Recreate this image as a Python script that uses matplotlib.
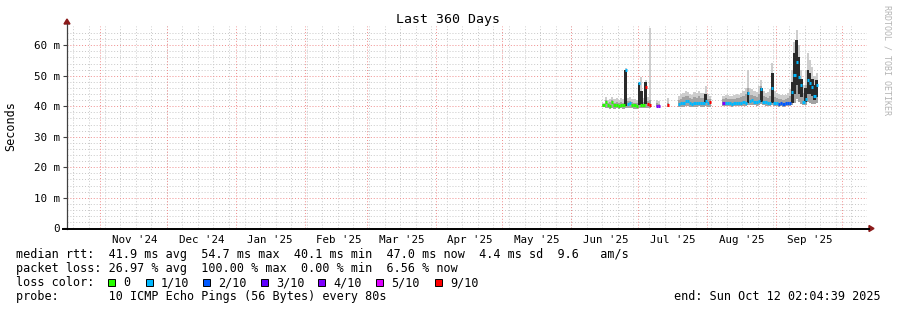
import matplotlib
matplotlib.use("Agg")

import matplotlib.dates as mdates
import matplotlib.pyplot as plt
import numpy as np
import pandas as pd
from matplotlib.figure import Figure
from matplotlib.lines import Line2D
from matplotlib.patches import Polygon, Rectangle

W: int = 897
H: int = 310

START: pd.Timestamp = pd.Timestamp("2024-10-17 02:04:39")
END: pd.Timestamp = pd.Timestamp("2025-10-12 02:04:39")

LOSS_COLORS: dict = {
    0: "#26ff00",
    1: "#00b8ff",
    2: "#0059ff",
    3: "#5e00ff",
    4: "#7e00ff",
    5: "#dd00ff",
    9: "#ff0000",
}
LOSS_LABELS: list = ["0", "1/10", "2/10", "3/10", "4/10", "5/10", "9/10"]
LOSS_KEYS: list = [0, 1, 2, 3, 4, 5, 9]

# June/July block (daily, from 2025-06-15)
seg1Start: str = "2025-06-15"
seg1Median: list = [40.3, 41.5, 40.4, 40.2, 41.4, 40.3, 40.4, 40.2, 40.5, 40.3, 52.0,
                    40.8, 41.0, 40.4, 40.3, 40.2, 47.6, 40.4, 40.3, 46.4, 40.6, 40.5]
seg1Loss: list = [0, 0, 0, 0, 0, 0, 0, 0, 0, 0, 1, 1, 1, 0, 0, 0, 1, 0, 0, 9, 9, 9]
seg1Lo: list = [39.6, 39.4, 39.3, 39.2, 39.3, 39.2, 39.3, 39.2, 39.3, 39.2, 39.5,
                39.3, 39.4, 39.3, 39.2, 39.2, 39.4, 39.3, 39.3, 39.4, 39.3, 39.3]
seg1Hi: list = [41.2, 43.0, 42.2, 42.5, 43.0, 42.3, 42.6, 42.0, 42.8, 42.4, 52.4,
                42.8, 43.0, 42.5, 42.4, 42.0, 48.0, 49.6, 42.6, 48.5, 43.0, 65.7]
seg1Mid: list = [40.8, 42.0, 41.2, 41.3, 42.0, 41.2, 41.4, 41.0, 41.5, 41.2, 41.8,
                 41.6, 41.8, 41.3, 41.2, 41.0, 42.0, 42.5, 41.3, 42.0, 41.8, 42.0]

# isolated samples in July
gapDates: list = ["2025-07-09", "2025-07-10", "2025-07-14"]
gapMedian: list = [40.2, 40.1, 40.3]
gapLoss: list = [4, 4, 9]
gapLo: list = [39.6, 39.6, 39.7]
gapHi: list = [42.0, 41.8, 42.6]
gapMid: list = [41.0, 40.9, 41.2]

# late July block (daily, from 2025-07-19)
seg2Start: str = "2025-07-19"
seg2Median: list = [40.9, 41.0, 41.0, 41.8, 41.6, 41.0, 40.9, 41.1, 41.0, 41.2, 41.0,
                    41.1, 41.6, 41.0, 41.3]
seg2Loss: list = [1, 1, 1, 1, 1, 1, 1, 1, 1, 1, 1, 1, 1, 1, 9]
seg2Lo: list = [39.8, 39.8, 39.9, 40.0, 40.0, 39.9, 39.8, 39.9, 39.9, 40.0, 39.9,
                39.9, 40.0, 39.9, 39.9]
seg2Hi: list = [43.5, 44.0, 44.5, 45.0, 44.8, 44.0, 43.8, 44.6, 44.4, 45.0, 44.5,
                44.2, 46.8, 44.0, 43.5]
seg2Mid: list = [42.2, 42.5, 43.0, 43.5, 43.2, 42.6, 42.4, 43.0, 42.8, 43.2, 42.8,
                 42.6, 43.8, 42.5, 42.4]

# August/September block (daily, from 2025-08-08)
seg3Start: str = "2025-08-08"
seg3Median: list = [41.0, 41.0, 41.1, 41.0, 40.9, 41.0, 41.2, 41.0, 41.1, 41.4, 41.2,
                    44.5, 41.8, 42.0, 41.5, 41.3, 41.8, 45.8, 41.5, 41.3, 41.0, 41.2,
                    46.0, 41.2, 41.0, 40.9, 41.0, 40.9, 41.0, 41.0, 41.2, 44.8, 50.2,
                    54.6, 49.5, 47.0, 41.5, 42.5, 48.6, 47.5, 46.4, 43.4, 47.0]
seg3Loss: list = [4, 1, 1, 1, 1, 1, 1, 1, 1, 1, 1, 1, 1, 1, 1, 1, 1, 1, 1, 1, 1, 1,
                  1, 1, 1, 2, 2, 2, 2, 2, 2, 1, 1, 1, 1, 1, 1, 1, 1, 1, 1, 1, 1]
seg3Lo: list = [40.0, 40.0, 40.1, 40.0, 39.9, 40.0, 40.1, 40.0, 40.0, 40.2, 40.1,
                40.3, 40.4, 40.5, 40.3, 40.2, 40.4, 40.6, 40.3, 40.2, 40.0, 40.1,
                40.3, 40.1, 40.0, 39.9, 40.0, 39.9, 40.0, 40.0, 40.1, 40.5, 41.0,
                42.5, 41.5, 40.8, 40.3, 40.5, 41.5, 41.2, 40.8, 40.6, 41.0]
seg3Hi: list = [43.5, 43.8, 43.6, 43.5, 43.4, 43.7, 44.0, 43.8, 44.2, 45.0, 46.0,
                52.0, 46.0, 45.5, 45.0, 44.8, 46.5, 48.6, 45.0, 44.5, 44.8, 45.5,
                54.2, 45.0, 44.5, 44.0, 43.8, 43.6, 43.8, 44.2, 45.5, 52.0, 61.2,
                65.0, 60.0, 52.0, 47.0, 52.0, 57.5, 55.0, 53.0, 50.0, 51.0]
seg3Mid: list = [42.3, 42.6, 42.5, 42.4, 42.3, 42.5, 42.8, 42.6, 42.9, 43.5, 44.0,
                 46.0, 43.8, 43.6, 43.2, 43.0, 44.0, 46.5, 43.2, 42.9, 42.8, 43.4,
                 48.0, 43.0, 42.6, 42.4, 42.3, 42.2, 42.3, 42.6, 43.5, 47.5, 55.0,
                 60.0, 54.0, 48.0, 44.5, 47.0, 51.0, 50.0, 48.5, 46.0, 48.5]

# dense dark smoke
spikeDates: list = ["2025-06-25", "2025-07-01", "2025-07-02", "2025-07-04", "2025-07-31",
                    "2025-08-19", "2025-08-25", "2025-08-30", "2025-09-08", "2025-09-09",
                    "2025-09-10", "2025-09-11", "2025-09-12", "2025-09-14", "2025-09-15",
                    "2025-09-16", "2025-09-17", "2025-09-18", "2025-09-19"]
spikeLo: list = [40.2, 40.5, 40.5, 40.6, 41.0, 41.0, 41.5, 41.0, 41.0, 44.0, 47.0, 44.0,
                 43.0, 41.5, 44.0, 44.0, 43.5, 42.0, 43.0]
spikeHi: list = [52.0, 47.6, 45.0, 48.0, 44.0, 44.8, 46.0, 50.9, 48.0, 57.5, 61.7, 56.0,
                 49.0, 46.0, 52.0, 51.0, 49.0, 47.0, 48.5]

legendRows: list = [
    "median rtt:  41.9 ms avg  54.7 ms max  40.1 ms min  47.0 ms now  4.4 ms sd  9.6   am/s",
    "packet loss: 26.97 % avg  100.00 % max  0.00 % min  6.56 % now",
    "loss color:",
    "probe:       10 ICMP Echo Pings (56 Bytes) every 80s",
]
endText: str = "end: Sun Oct 12 02:04:39 2025"

MONO: str = "DejaVu Sans Mono"


def fx(x: float) -> float:
    return x / W


def fy(y: float) -> float:
    return 1 - y / H


def drawBlock(ax, dates, median, loss, lo, hi, mid) -> None:
    x: np.ndarray = mdates.date2num(pd.to_datetime(dates)) + 0.5
    lo = np.array(lo)
    ax.bar(x, np.array(hi) - lo, bottom=lo, width=1.0, color="#cdcdcd", linewidth=0, zorder=3)
    ax.bar(x, np.array(mid) - lo, bottom=lo, width=1.0, color="#a2a2a2", linewidth=0, zorder=4)
    colors: list = [LOSS_COLORS[l] for l in loss]
    ax.hlines(median, x - 0.5, x + 0.5, colors=colors, linewidth=2.2, zorder=6)


def main() -> None:
    plt.rcParams["font.family"] = MONO

    figure: Figure = plt.figure(figsize=(W / 100, H / 100), dpi=100)
    figure.patch.set_facecolor("white")

    left, right, top, bottom = 67, 867, 26, 228.3
    ax = figure.add_axes([fx(left), fy(bottom), (right - left) / W, (bottom - top) / H])
    ax.set_facecolor("white")
    ax.set_xlim(mdates.date2num(START), mdates.date2num(END))
    ax.set_ylim(0, 66.3)
    for s in ax.spines.values():
        s.set_visible(False)

    # grid
    for v in np.arange(2, 66, 2):
        if v % 10 == 0:
            continue
        ax.axhline(v, color="#c8c8c8", linewidth=0.7, linestyle=(0, (1, 2)), zorder=1)
    for v in range(10, 70, 10):
        ax.axhline(v, color="#f08c8c", linewidth=0.7, linestyle=(0, (1, 2)), zorder=2)
    for d in pd.date_range("2024-10-20", END, freq="7D"):
        ax.axvline(mdates.date2num(d), color="#c8c8c8", linewidth=0.7, linestyle=(0, (1, 2)), zorder=1)
    for d in pd.date_range("2024-11-01", END, freq="MS"):
        ax.axvline(mdates.date2num(d), color="#f08c8c", linewidth=0.7, linestyle=(0, (1, 2)), zorder=2)

    # smoke + median
    drawBlock(ax, pd.date_range(seg1Start, periods=len(seg1Median), freq="D"),
              seg1Median, seg1Loss, seg1Lo, seg1Hi, seg1Mid)
    drawBlock(ax, gapDates, gapMedian, gapLoss, gapLo, gapHi, gapMid)
    drawBlock(ax, pd.date_range(seg2Start, periods=len(seg2Median), freq="D"),
              seg2Median, seg2Loss, seg2Lo, seg2Hi, seg2Mid)
    drawBlock(ax, pd.date_range(seg3Start, periods=len(seg3Median), freq="D"),
              seg3Median, seg3Loss, seg3Lo, seg3Hi, seg3Mid)
    sx: np.ndarray = mdates.date2num(pd.to_datetime(spikeDates)) + 0.5
    ax.bar(sx, np.array(spikeHi) - np.array(spikeLo), bottom=spikeLo, width=1.2,
           color="#2a2a2a", linewidth=0, zorder=5)

    # ticks
    yticks: list = [0, 10, 20, 30, 40, 50, 60]
    ax.set_yticks(yticks)
    ax.set_yticklabels(["0"] + [f"{t} m" for t in yticks[1:]], fontsize=7.8)
    months: pd.DatetimeIndex = pd.date_range("2024-11-01", "2025-09-01", freq="MS")
    ax.set_xticks(mdates.date2num(months + pd.Timedelta(days=15, hours=12)))
    ax.set_xticklabels([m.strftime("%b '%y") for m in months], fontsize=7.8)
    ax.tick_params(axis="x", length=0, pad=5)
    ax.tick_params(axis="y", length=3, width=0.8, color="#404040", pad=2)

    # axes lines and arrows
    figure.add_artist(Line2D([fx(67), fx(67)], [fy(229), fy(24)], color="#404040",
                             linewidth=0.9, transform=figure.transFigure))
    figure.add_artist(Line2D([fx(63), fx(869)], [fy(228.5), fy(228.5)], color="black",
                             linewidth=1.4, transform=figure.transFigure))
    figure.add_artist(Polygon([[fx(64), fy(24)], [fx(70), fy(24)], [fx(67), fy(19)]],
                              closed=True, color="#8b1a1a", transform=figure.transFigure))
    figure.add_artist(Polygon([[fx(869), fy(225.5)], [fx(869), fy(231.5)], [fx(874), fy(228.5)]],
                              closed=True, color="#8b1a1a", transform=figure.transFigure))

    # texts
    figure.text(fx(448), fy(19), "Last 360 Days", ha="center", va="center", fontsize=9.5)
    figure.text(fx(11), fy(126), "Seconds", ha="center", va="center", rotation=90, fontsize=8.5)
    figure.text(fx(887), fy(60), "RRDTOOL / TOBI OETIKER", ha="center", va="center",
                rotation=270, fontsize=6, color="#b4b4b4")

    rowY: list = [254.5, 268.5, 282.5, 296.5]
    for text, y in zip(legendRows, rowY):
        figure.text(fx(16), fy(y), text, ha="left", va="center", fontsize=8.5)
    figure.text(fx(881), fy(rowY[3]), endText, ha="right", va="center", fontsize=8.5)

    boxX: list = [108, 146, 203, 261, 318, 376, 435]
    for key, label, bx in zip(LOSS_KEYS, LOSS_LABELS, boxX):
        figure.add_artist(Rectangle((fx(bx), fy(rowY[2] + 3.5)), 7 / W, 7 / H,
                                    facecolor=LOSS_COLORS[key], edgecolor="black",
                                    linewidth=0.7, transform=figure.transFigure))
        figure.text(fx(bx + 15), fy(rowY[2]), label, ha="left", va="center", fontsize=8.5)

    figure.savefig("out.png", dpi=100)


if __name__ == "__main__":
    main()
